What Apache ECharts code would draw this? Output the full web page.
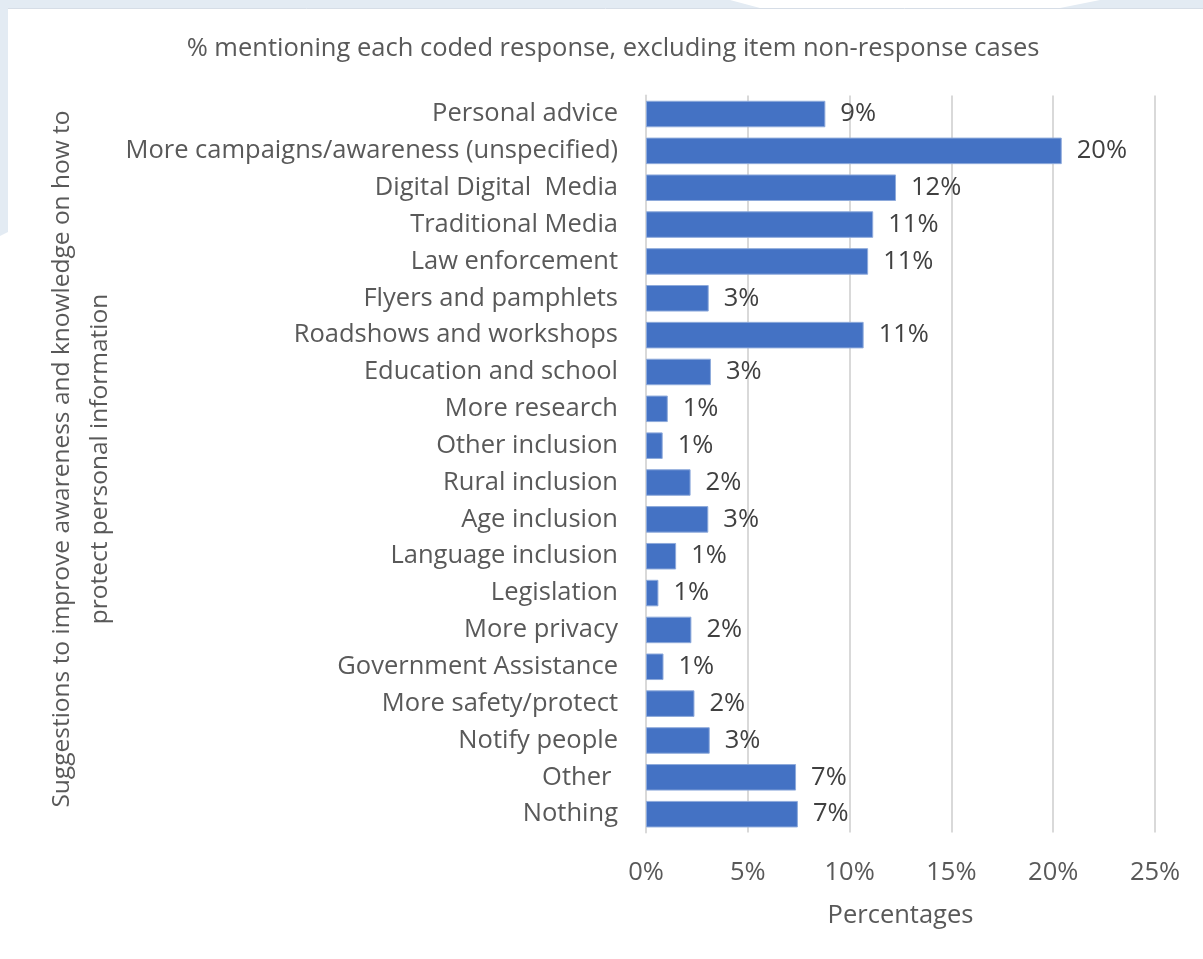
<!DOCTYPE html>
<html>
<head>
<meta charset="utf-8">
<script src="https://cdn.jsdelivr.net/npm/echarts@6/dist/echarts.min.js"></script>
<style>
  html, body { margin: 0; padding: 0; background: #ffffff; }
  #chart { width: 1203px; height: 959px; }
</style>
</head>
<body>
<div id="chart"></div>
<script>
// Coded responses, top to bottom
const categories = [
  'Personal advice',
  'More campaigns/awareness (unspecified)',
  'Digital Digital  Media',
  'Traditional Media',
  'Law enforcement',
  'Flyers and pamphlets',
  'Roadshows and workshops',
  'Education and school',
  'More research',
  'Other inclusion',
  'Rural inclusion',
  'Age inclusion',
  'Language inclusion',
  'Legislation',
  'More privacy',
  'Government Assistance',
  'More safety/protect',
  'Notify people',
  'Other ',
  'Nothing'
];

// Share of respondents mentioning each response (%)
const percentages = [
  8.81, 20.42, 12.28, 11.16, 10.91, 3.08, 10.69, 3.19, 1.07, 0.82,
  2.19, 3.06, 1.48, 0.61, 2.23, 0.86, 2.38, 3.13, 7.37, 7.46
];

// Value axis ticks (%)
const xTicks = [0, 5, 10, 15, 20, 25];

const chartTitle = '% mentioning each coded response, excluding item non-response cases';
const xAxisTitle = 'Percentages';
const yAxisTitle = 'Suggestions to improve awareness and knowledge on how to\nprotect personal information';

const FONT = '"Open Sans", "Noto Sans", sans-serif';
const FS = 25.5;
const chart = echarts.init(document.getElementById('chart'), null, { renderer: 'canvas' });

chart.setOption({
  backgroundColor: '#ffffff',
  animation: false,
  title: {
    text: chartTitle,
    left: 608,
    top: 31,
    textAlign: 'center',
    textStyle: { fontFamily: FONT, fontSize: FS, fontWeight: 'normal', color: '#595959' }
  },
  graphic: [
    // pale page decoration behind the chart panel
    {
      type: 'polygon', z: -10, silent: true,
      shape: { points: [[0, 0], [730, 0], [760, 8], [1060, 8], [1100, 0], [1203, 0], [1203, 8], [8, 8], [8, 232], [0, 236]] },
      style: { fill: '#e3ebf3' }
    },
    {
      type: 'line', z: -9, silent: true,
      shape: { x1: 8, y1: 8.5, x2: 1203, y2: 8.5 },
      style: { stroke: '#d6dde6', lineWidth: 1 }
    },
    {
      type: 'text',
      x: 81, y: 459,
      rotation: Math.PI / 2,
      style: {
        text: yAxisTitle,
        fontFamily: FONT,
        fontSize: 24.5,
        lineHeight: 38,
        fill: '#595959',
        align: 'center',
        verticalAlign: 'middle'
      }
    }
  ],
  grid: { left: 646, right: 48, top: 95.6, bottom: 126.4, containLabel: false },
  xAxis: {
    type: 'value',
    min: xTicks[0],
    max: xTicks[xTicks.length - 1],
    interval: xTicks[1] - xTicks[0],
    name: xAxisTitle,
    nameLocation: 'middle',
    nameGap: 70,
    nameTextStyle: { fontFamily: FONT, fontSize: FS, color: '#595959' },
    axisLine: { show: false },
    axisTick: { show: false },
    axisLabel: {
      margin: 27,
      fontFamily: FONT, fontSize: FS, color: '#595959',
      formatter: v => v + '%'
    },
    splitLine: { show: true, lineStyle: { color: '#d9d9d9', width: 2 } }
  },
  yAxis: {
    type: 'category',
    data: categories,
    inverse: true,
    axisLine: { show: true, lineStyle: { color: '#d9d9d9', width: 2 } },
    axisTick: { show: false },
    axisLabel: {
      margin: 28,
      padding: [4, 0, 0, 0],
      fontFamily: FONT, fontSize: FS, color: '#595959'
    }
  },
  series: [{
    type: 'bar',
    data: percentages,
    barCategoryGap: '28%',
    itemStyle: { color: '#4472c4', borderColor: '#8eaadb', borderWidth: 1 },
    label: {
      show: true,
      position: 'right',
      distance: 15,
      padding: [5, 0, 0, 0],
      fontFamily: FONT, fontSize: FS, color: '#404040',
      formatter: p => Math.round(p.value) + '%'
    }
  }]
});
</script>
</body>
</html>
